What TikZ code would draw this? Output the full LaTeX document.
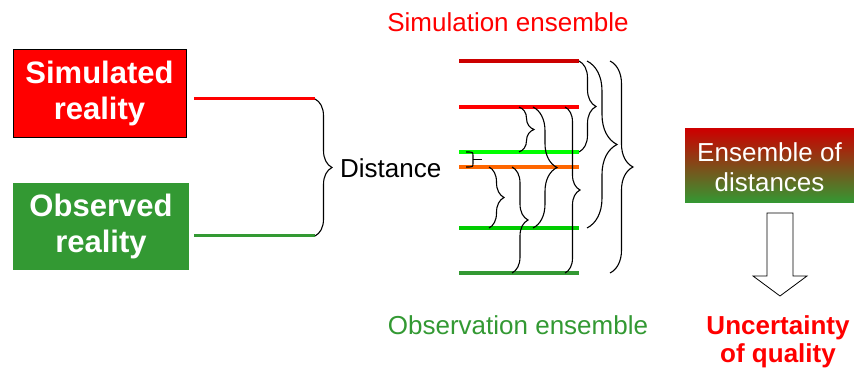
\documentclass[tikz,border=0pt]{standalone}
\usepackage{fontspec}
\setmainfont{Liberation Sans}
\usetikzlibrary{decorations.pathreplacing}
\definecolor{dred}{HTML}{CC0000}
\definecolor{bred}{HTML}{FF0000}
\definecolor{lgreen}{HTML}{00FF00}
\definecolor{mgreen}{HTML}{00CC00}
\definecolor{dgreen}{HTML}{339933}
\definecolor{orng}{HTML}{FF6600}
\tikzset{
  bigbox/.style={inner sep=0pt, align=center, text=white, font=\fontsize{31}{36}\selectfont\bfseries},
  ensline/.style={line width=3.3pt},
  brc/.style={decorate, decoration={brace, amplitude=#1}, line width=1.1pt, black},
  lbl/.style={inner sep=0pt, font=\fontsize{26}{30}\selectfont}
}
\begin{document}
\begin{tikzpicture}[x=1pt,y=1pt]
\useasboundingbox (0,0) rectangle (854,-371);
% left boxes
\node[bigbox, fill=bred, draw=black, line width=0.8pt, minimum width=173pt, minimum height=88pt] (sim) at (99.5,-93) {Simulated\\reality};
\node[bigbox, fill=dgreen, minimum width=176pt, minimum height=87pt] (obs) at (101,-226.5) {Observed\\reality};
% lines from boxes
\coordinate (sa) at (194,-99); \coordinate (sb) at (315,-99);
\coordinate (oa) at (194,-236); \coordinate (ob) at (315,-236);
\draw[bred, line width=3pt] (sa) -- (sb);
\draw[dgreen, line width=3pt] (oa) -- (ob);
\draw[brc=17] (sb) -- (ob);
\node[lbl, anchor=west] (dist) at (340,-168) {Distance};
% ensemble lines
\foreach \n/\y/\c in {1/61/dred, 2/107/bred, 3/152/lgreen, 4/167/orng, 5/228/mgreen, 6/273/dgreen}{
  \coordinate (L\n a) at (459,-\y);
  \coordinate (L\n b) at (579,-\y);
  \draw[\c, ensline] (L\n a) -- (L\n b);
}
% braces
\coordinate (b1t) at (579,-61);  \coordinate (b1b) at (579,-152);
\coordinate (b2t) at (587,-61);  \coordinate (b2b) at (587,-228);
\coordinate (b3t) at (610,-61);  \coordinate (b3b) at (610,-273);
\coordinate (b4t) at (519,-107); \coordinate (b4b) at (519,-152);
\coordinate (b5t) at (533,-107); \coordinate (b5b) at (533,-228);
\coordinate (b6t) at (565,-107); \coordinate (b6b) at (565,-273);
\coordinate (b7t) at (466,-152); \coordinate (b7b) at (466,-167);
\coordinate (b8t) at (489,-167); \coordinate (b8b) at (489,-228);
\coordinate (b9t) at (512,-167); \coordinate (b9b) at (512,-273);
\draw[brc=17] (b1t) -- (b1b);
\draw[brc=30] (b2t) -- (b2b);
\draw[brc=23] (b3t) -- (b3b);
\draw[brc=15] (b4t) -- (b4b);
\draw[brc=24] (b5t) -- (b5b);
\draw[brc=15] (b6t) -- (b6b);
\draw[line width=1.1pt] (b7t) .. controls (473,-152) .. (473,-156) -- (473,-163) .. controls (473,-167) .. (b7b);
\coordinate (b7m) at (473,-159.5); \coordinate (b7e) at (482,-159.5);
\draw[line width=1.8pt] (b7m) -- (b7e);
\draw[brc=15] (b8t) -- (b8b);
\draw[brc=16] (b9t) -- (b9b);
% labels
\node[lbl, text=bred] (simens) at (508,-22) {Simulation ensemble};
\node[lbl, text=dgreen] (obsens) at (518,-325) {Observation ensemble};
% ensemble of distances
\shade[top color=dred, bottom color=dgreen] (685,-129) rectangle (854,-203);
\node[lbl, text=white, align=center, font=\fontsize{26}{30}\selectfont] (ensd) at (769.5,-167) {Ensemble of\\distances};
% block arrow
\draw[black, fill=white, line width=0.8pt] (767,-213) -- (793,-213) -- (793,-276) -- (807,-276) -- (780,-296) -- (753,-276) -- (767,-276) -- cycle;
\node[lbl, text=bred, align=center, font=\fontsize{26}{28}\selectfont\bfseries] (unc) at (778,-342) {Uncertainty\\of quality};
\end{tikzpicture}
\end{document}
